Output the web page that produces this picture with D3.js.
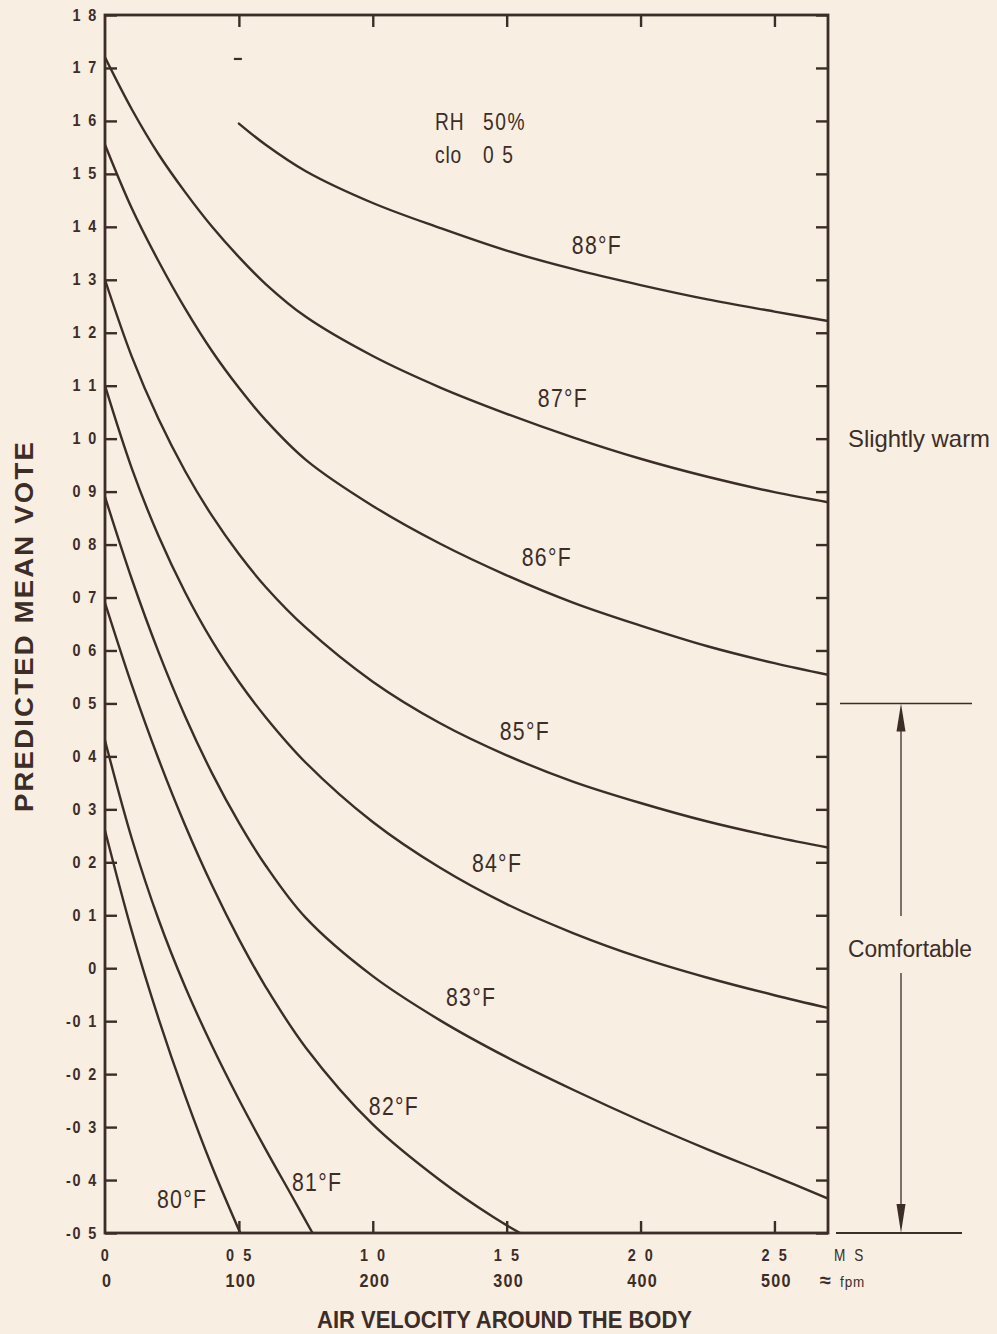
<!DOCTYPE html>
<html>
<head>
<meta charset="utf-8">
<script src="https://cdn.jsdelivr.net/npm/d3@7"></script>
<style>
  html, body { margin: 0; padding: 0; background: #f8eee1; }
  svg { display: block; }
</style>
</head>
<body>
<svg id="chart" width="997" height="1334"></svg>
<script>
// ---------------------------------------------------------------
// Predicted mean vote vs. air velocity around the body,
// one curve per air temperature (RH 50 %, clo 0.5). Velocity in m/s.
// ---------------------------------------------------------------
const temperatures = ["80°F", "81°F", "82°F", "83°F", "84°F", "85°F", "86°F", "87°F", "88°F"];

const vel80 = [0, 0.1, 0.2, 0.3, 0.4, 0.505];
const pmv80 = [0.26, 0.07, -0.095, -0.242, -0.375, -0.50];

const vel81 = [0, 0.1, 0.2, 0.3, 0.4, 0.5, 0.6, 0.7, 0.775];
const pmv81 = [0.43, 0.245, 0.092, -0.036, -0.147, -0.248, -0.342, -0.432, -0.50];

const vel82 = [0, 0.1, 0.2, 0.3, 0.4, 0.5, 0.6, 0.75, 1.0, 1.25, 1.45, 1.55];
const pmv82 = [0.69, 0.535, 0.395, 0.269, 0.156, 0.055, -0.035, -0.15, -0.295, -0.40, -0.47, -0.50];

const velGrid = [0, 0.1, 0.2, 0.3, 0.4, 0.5, 0.6, 0.75, 1.0, 1.25, 1.5, 1.75, 2.0, 2.25, 2.5, 2.7];
const pmv83 = [0.89, 0.735, 0.597, 0.475, 0.368, 0.275, 0.194, 0.095, -0.015, -0.098, -0.168, -0.23, -0.288, -0.342, -0.393, -0.435];
const pmv84 = [1.10, 0.944, 0.816, 0.709, 0.618, 0.541, 0.474, 0.388, 0.276, 0.19, 0.121, 0.066, 0.02, -0.018, -0.051, -0.075];
const pmv85 = [1.30, 1.155, 1.037, 0.938, 0.854, 0.782, 0.72, 0.643, 0.541, 0.463, 0.402, 0.352, 0.312, 0.277, 0.248, 0.228];
const pmv86 = [1.555, 1.435, 1.335, 1.245, 1.165, 1.096, 1.035, 0.96, 0.873, 0.802, 0.742, 0.69, 0.647, 0.608, 0.576, 0.554];
const pmv87 = [1.72, 1.622, 1.537, 1.465, 1.40, 1.343, 1.292, 1.23, 1.156, 1.097, 1.047, 1.002, 0.962, 0.928, 0.899, 0.88];

const vel88 = [0.5, 0.6, 0.75, 1.0, 1.25, 1.5, 1.75, 2.0, 2.25, 2.5, 2.7];
const pmv88 = [1.595, 1.555, 1.505, 1.445, 1.398, 1.355, 1.32, 1.29, 1.263, 1.24, 1.222];

// axis ticks and their labels
const msTicks = [0, 0.5, 1.0, 1.5, 2.0, 2.5];
const fpmLabels = ["0", "100", "200", "300", "400", "500"];
const pmvTicks = d3.range(-5, 19).map(d => d / 10);

// comfort band limits on the PMV scale, and the zone captions
const comfortBand = [-0.5, 0.5];
const zoneNames = ["Slightly warm", "Comfortable"];
const zonePmv = [1.0, 0.04];

// ---------------------------------------------------------------
const INK = "#3c2d28";
const FONT = "'Liberation Sans', Arial, sans-serif";

const plot = { left: 105, right: 828, top: 15, bottom: 1233 };

const x = d3.scaleLinear().domain([0, 2.7]).range([plot.left, plot.right]);
const y = d3.scaleLinear().domain([-0.5, 1.8]).range([plot.bottom, plot.top]);

const svg = d3.select("#chart");

svg.append("rect")
  .attr("width", 997).attr("height", 1334)
  .attr("fill", "#f8eee1");

svg.append("clipPath").attr("id", "plot-clip")
  .append("rect")
  .attr("x", plot.left).attr("y", plot.top - 2)
  .attr("width", plot.right - plot.left).attr("height", plot.bottom - plot.top + 2);

// condensed lettering: horizontally squeezed text anchored at (px, py)
function narrowText(parent, px, py, str, o = {}) {
  return parent.append("text")
    .attr("transform", `translate(${px},${py}) scale(${o.sx ?? 0.85},1)`)
    .attr("text-anchor", o.anchor ?? "start")
    .attr("fill", INK)
    .style("font-family", FONT)
    .style("font-size", (o.size ?? 16) + "px")
    .style("font-weight", o.weight ?? "normal")
    .style("letter-spacing", (o.ls ?? 0) + "px")
    .text(str);
}

// series table built from the arrays above
const zip = (vs, ps) => vs.map((v, i) => [v, ps[i]]);
const series = [
  zip(vel80, pmv80), zip(vel81, pmv81), zip(vel82, pmv82),
  zip(velGrid, pmv83), zip(velGrid, pmv84), zip(velGrid, pmv85),
  zip(velGrid, pmv86), zip(velGrid, pmv87), zip(vel88, pmv88)
].map((pts, i) => ({ name: temperatures[i], pts }));

// ---------- curves ----------
const line = d3.line()
  .x(d => x(d[0]))
  .y(d => y(d[1]))
  .curve(d3.curveCatmullRom.alpha(0.5));

svg.append("g")
  .attr("clip-path", "url(#plot-clip)")
  .selectAll("path")
  .data(series)
  .join("path")
  .attr("d", d => line(d.pts))
  .attr("fill", "none")
  .attr("stroke", INK)
  .attr("stroke-width", 2.4)
  .attr("stroke-linecap", "round");

// ---------- frame and inward ticks ----------
function styleAxis(g) {
  g.select(".domain").remove();
  g.selectAll(".tick line").attr("stroke", INK).attr("stroke-width", 2.4);
}

svg.append("g")
  .attr("transform", `translate(${plot.left},0)`)
  .call(d3.axisLeft(y).tickValues(pmvTicks).tickSize(-12).tickFormat(""))
  .call(styleAxis);

svg.append("g")
  .attr("transform", `translate(${plot.right},0)`)
  .call(d3.axisRight(y).tickValues(pmvTicks).tickSize(-12).tickFormat(""))
  .call(styleAxis);

svg.append("g")
  .attr("transform", `translate(0,${plot.top})`)
  .call(d3.axisTop(x).tickValues(msTicks.slice(1)).tickSize(-12).tickFormat(""))
  .call(styleAxis);

svg.append("g")
  .attr("transform", `translate(0,${plot.bottom})`)
  .call(d3.axisBottom(x).tickValues(msTicks.slice(1)).tickSize(-12).tickFormat(""))
  .call(styleAxis);

svg.append("rect")
  .attr("x", plot.left).attr("y", plot.top)
  .attr("width", plot.right - plot.left).attr("height", plot.bottom - plot.top)
  .attr("fill", "none").attr("stroke", INK).attr("stroke-width", 2.8);

// ---------- tick labels ----------
const fmtDec = v => {
  if (Math.abs(v) < 1e-9) return "0";
  return (v < 0 ? "-" : "") + Math.abs(v).toFixed(1).replace(".", " ");
};

const yLabels = svg.append("g");
pmvTicks.forEach(v => {
  narrowText(yLabels, plot.left - 7, y(v) + 5.5, fmtDec(v),
    { anchor: "end", size: 16, weight: "bold", ls: 2, sx: 0.9 });
});

const xLabels = svg.append("g");
msTicks.forEach((v, i) => {
  narrowText(xLabels, x(v) + 1, plot.bottom + 28, v === 0 ? "0" : v.toFixed(1).replace(".", " "),
    { anchor: "middle", size: 17, weight: "bold", ls: 3, sx: 0.85 });
  narrowText(xLabels, x(v) + 2, plot.bottom + 54, fpmLabels[i],
    { anchor: "middle", size: 19, weight: "bold", ls: 1.5, sx: 0.85 });
});
narrowText(xLabels, plot.right + 6, plot.bottom + 28, "M S", { size: 16, ls: 3, sx: 0.85 });
narrowText(xLabels, plot.right - 8, plot.bottom + 54, "≈", { size: 20, weight: "bold", sx: 1 });
narrowText(xLabels, plot.right + 12, plot.bottom + 54, "fpm", { size: 15, ls: 1, sx: 0.9 });

// ---------- axis titles ----------
svg.append("text")
  .attr("x", 317).attr("y", 1328)
  .attr("textLength", 375)
  .attr("lengthAdjust", "spacingAndGlyphs")
  .attr("fill", INK)
  .style("font-family", FONT)
  .style("font-weight", "bold")
  .style("font-size", "24px")
  .text("AIR VELOCITY AROUND THE BODY");

svg.append("text")
  .attr("transform", "translate(33,812) rotate(-90)")
  .attr("textLength", 372)
  .attr("lengthAdjust", "spacingAndGlyphs")
  .attr("fill", INK)
  .style("font-family", FONT)
  .style("font-weight", "bold")
  .style("font-size", "25px")
  .style("letter-spacing", "2px")
  .text("PREDICTED MEAN VOTE");

// ---------- curve labels (centre x, baseline) ----------
const labelAt = {
  "80°F": [0.288, -0.453], "81°F": [0.792, -0.42], "82°F": [1.079, -0.277],
  "83°F": [1.367, -0.071], "84°F": [1.464, 0.182], "85°F": [1.568, 0.431],
  "86°F": [1.650, 0.760], "87°F": [1.710, 1.060], "88°F": [1.837, 1.349]
};
const curveLabels = svg.append("g");
series.forEach(s => {
  const [lv, lp] = labelAt[s.name];
  narrowText(curveLabels, x(lv), y(lp), s.name, { anchor: "middle", size: 25, ls: 1.5, sx: 0.85 });
});

// ---------- conditions note ----------
const note = svg.append("g");
narrowText(note, 435, 130, "RH", { size: 24, ls: 1, sx: 0.8 });
narrowText(note, 483, 130, "50%", { size: 24, ls: 2, sx: 0.8 });
narrowText(note, 435, 163, "clo", { size: 24, ls: 1, sx: 0.8 });
narrowText(note, 483, 163, "0 5", { size: 24, ls: 2, sx: 0.8 });

// small stroke above the start of the 88°F curve
svg.append("line")
  .attr("x1", x(0.5) - 5).attr("x2", x(0.5) + 3)
  .attr("y1", y(1.717)).attr("y2", y(1.717))
  .attr("stroke", INK).attr("stroke-width", 2.2);

// ---------- comfort zone bracket ----------
const bx = 901;
const zone = svg.append("g").attr("stroke", INK).attr("fill", INK);
zone.append("line")
  .attr("x1", 840).attr("x2", 972)
  .attr("y1", y(comfortBand[1])).attr("y2", y(comfortBand[1]))
  .attr("stroke-width", 1.6);
zone.append("line")
  .attr("x1", 836).attr("x2", 962)
  .attr("y1", y(comfortBand[0])).attr("y2", y(comfortBand[0]))
  .attr("stroke-width", 1.8);
zone.append("line")
  .attr("x1", bx).attr("x2", bx)
  .attr("y1", y(comfortBand[1]) + 20).attr("y2", y(zonePmv[1]) - 31)
  .attr("stroke-width", 1.3);
zone.append("line")
  .attr("x1", bx).attr("x2", bx)
  .attr("y1", y(zonePmv[1]) + 26).attr("y2", y(comfortBand[0]) - 20)
  .attr("stroke-width", 1.3);
zone.append("path")
  .attr("stroke", "none")
  .attr("d", `M${bx},${y(comfortBand[1])} L${bx - 4.5},${y(comfortBand[1]) + 28} L${bx + 4.5},${y(comfortBand[1]) + 28} Z`);
zone.append("path")
  .attr("stroke", "none")
  .attr("d", `M${bx},${y(comfortBand[0])} L${bx - 4.5},${y(comfortBand[0]) - 29} L${bx + 4.5},${y(comfortBand[0]) - 29} Z`);

svg.append("text")
  .attr("x", 848).attr("y", y(zonePmv[0]) + 8)
  .attr("textLength", 142)
  .attr("lengthAdjust", "spacingAndGlyphs")
  .attr("fill", INK)
  .style("font-family", FONT)
  .style("font-size", "24px")
  .text(zoneNames[0]);

svg.append("text")
  .attr("x", 848).attr("y", y(zonePmv[1]) + 10)
  .attr("textLength", 124)
  .attr("lengthAdjust", "spacingAndGlyphs")
  .attr("fill", INK)
  .style("font-family", FONT)
  .style("font-size", "23px")
  .text(zoneNames[1]);
</script>
</body>
</html>
